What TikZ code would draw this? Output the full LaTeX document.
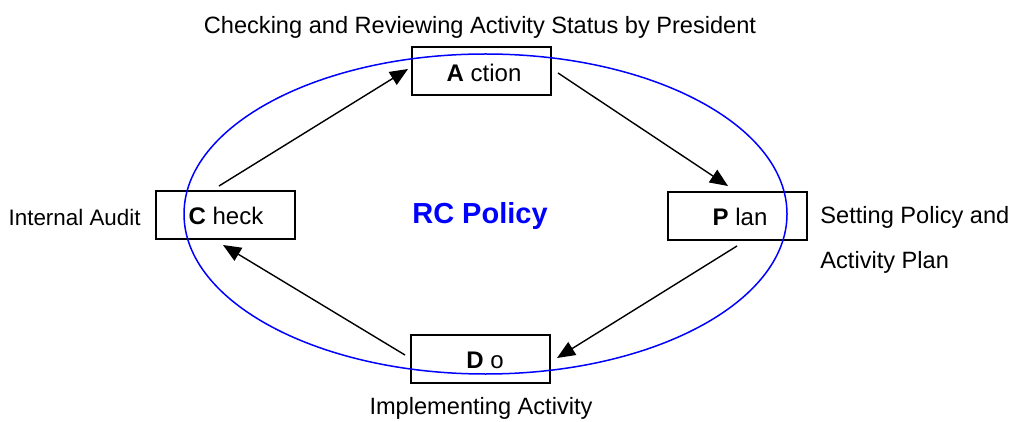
\documentclass[tikz,border=0pt]{standalone}
\usepackage{fontspec}
\setmainfont{Liberation Sans}
\usetikzlibrary{calc,arrows.meta}
\begin{document}
\begin{tikzpicture}[x=0.5pt,y=-0.5pt,
  box/.style={draw=black,line width=1pt,minimum width=69.5pt,minimum height=24pt,inner sep=0pt},
  boxtxt/.style={inner sep=0pt,font=\fontsize{12}{14}\selectfont},
  lbl/.style={inner sep=0pt,font=\fontsize{11.8}{14}\selectfont},
  arr/.style={draw=black,line width=0.7pt,-{Triangle[length=9pt,width=7.5pt]}}]
\useasboundingbox (0,0) rectangle (1011,422);
\node[box] (A) at (481,71) {};
\node[box] (C) at (225,215.5) {};
\node[box] (P) at (737.5,216) {};
\node[box] (D) at (480.5,359) {};
\node[boxtxt,anchor=base] (At) at (484,82) {\textbf{A} ction};
\node[boxtxt,anchor=base] (Ct) at (226,225) {\textbf{C} heck};
\node[boxtxt,anchor=base] (Pt) at (740,226) {\textbf{P} lan};
\node[boxtxt,anchor=base] (Dt) at (485,368) {\textbf{D} o};
\draw[blue,line width=0.75pt] (485.5,214) ellipse [x radius=301.5, y radius=160];
\node[inner sep=0pt,text=blue,font=\fontsize{14.5}{16}\selectfont\bfseries,anchor=base] (RC) at (480,224) {RC Policy};
\node[lbl,anchor=base] (t1) at (480,34) {Checking and Reviewing Activity Status by President};
\node[lbl,anchor=base east,font=\fontsize{11.2}{14}\selectfont] (t2) at (141,226) {Internal Audit};
\node[lbl,anchor=base west] (t3) at (820,224) {Setting Policy and};
\node[lbl,anchor=base west] (t4) at (820,269) {Activity Plan};
\node[lbl,anchor=base] (t5) at (481,414) {Implementing Activity};
\draw[arr] ($(C.north)+(-6,-4.5)$) -- ($(A.west)+(-2.5,-2)$);
\draw[arr] ($(A.east)+(6.5,2)$) -- ($(P.north)+(-9.5,-5)$);
\draw[arr] ($(P.south)+(-0.5,5)$) -- ($(D.east)+(6,-1)$);
\draw[arr] ($(D.west)+(-5,-4)$) -- ($(C.south)+(-2,4.5)$);
\end{tikzpicture}
\end{document}
